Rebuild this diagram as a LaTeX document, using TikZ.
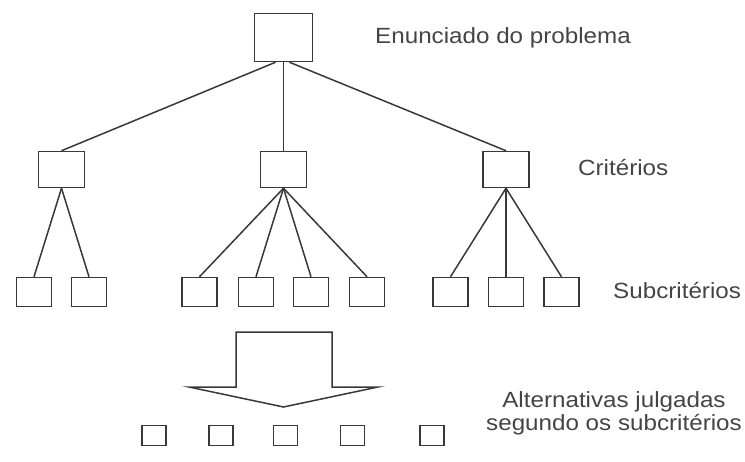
\documentclass[tikz,border=0pt]{standalone}
\usepackage{fontspec}
\newfontfamily\labelfont[FakeStretch=1.1]{Liberation Sans}
\definecolor{linegray}{HTML}{383838}
\definecolor{textgray}{HTML}{444444}
\begin{document}
\begin{tikzpicture}[x=1pt,y=-1pt,
  plain/.style={draw=linegray, line width=1.5pt, inner sep=0pt, fill=white},
  topbox/.style={plain, minimum width=58pt, minimum height=48pt},
  critbox/.style={plain, minimum width=46pt, minimum height=36pt},
  subbox/.style={plain, minimum width=35pt, minimum height=29pt},
  altbox/.style={plain, minimum width=24pt, minimum height=20pt},
  edge/.style={draw=linegray, line width=1.5pt},
  caption/.style={text=textgray, inner sep=0pt, font=\labelfont\fontsize{22}{23}\selectfont}]
\useasboundingbox (0,0) rectangle (745,461);

% problem statement
\node[topbox] (top) at (283.5,37.5) {};

% criteria
\node[critbox] (c1) at (61.5,169.5) {};
\node[critbox] (c2) at (283.5,169.5) {};
\node[critbox] (c3) at (506,169.5) {};

% subcriteria
\node[subbox] (s1) at (34,292) {};
\node[subbox] (s2) at (89,292) {};
\node[subbox] (s3) at (199.5,292) {};
\node[subbox] (s4) at (256,292) {};
\node[subbox] (s5) at (311,292) {};
\node[subbox] (s6) at (367,292) {};
\node[subbox] (s7) at (450.5,292) {};
\node[subbox] (s8) at (506,292) {};
\node[subbox] (s9) at (561.5,292) {};

% alternatives
\node[altbox] (a1) at (154,435.5) {};
\node[altbox] (a2) at (221,435.5) {};
\node[altbox] (a3) at (285.5,435.5) {};
\node[altbox] (a4) at (352.5,435.5) {};
\node[altbox] (a5) at (432,435.5) {};

% tree connectors
\draw[edge] ([xshift=-8pt]top.south) -- (c1.north);
\draw[edge] (top.south) -- (c2.north);
\draw[edge] ([xshift=6pt]top.south) -- (c3.north);
\foreach \s in {s1,s2} \draw[edge] (c1.south) -- (\s.north);
\foreach \s in {s3,s4,s5,s6} \draw[edge] (c2.south) -- (\s.north);
\foreach \s in {s7,s8,s9} \draw[edge] (c3.south) -- (\s.north);

% block arrow down to the alternatives
\draw[edge, line join=miter] (236,332) -- (332,332) -- (332,387) -- (378,387)
  -- (283.5,407) -- (189,387) -- (236,387) -- cycle;

% level captions
\node[caption, anchor=base west] (lt) at (375,43) {Enunciado do problema};
\node[caption, anchor=base west] (lc) at (578,175) {Critérios};
\node[caption, anchor=base west] (ls) at (613,298) {Subcritérios};
\node[caption, anchor=base, align=center] (la) at (614,430)
  {Alternativas julgadas\\segundo os subcritérios};
\end{tikzpicture}
\end{document}
